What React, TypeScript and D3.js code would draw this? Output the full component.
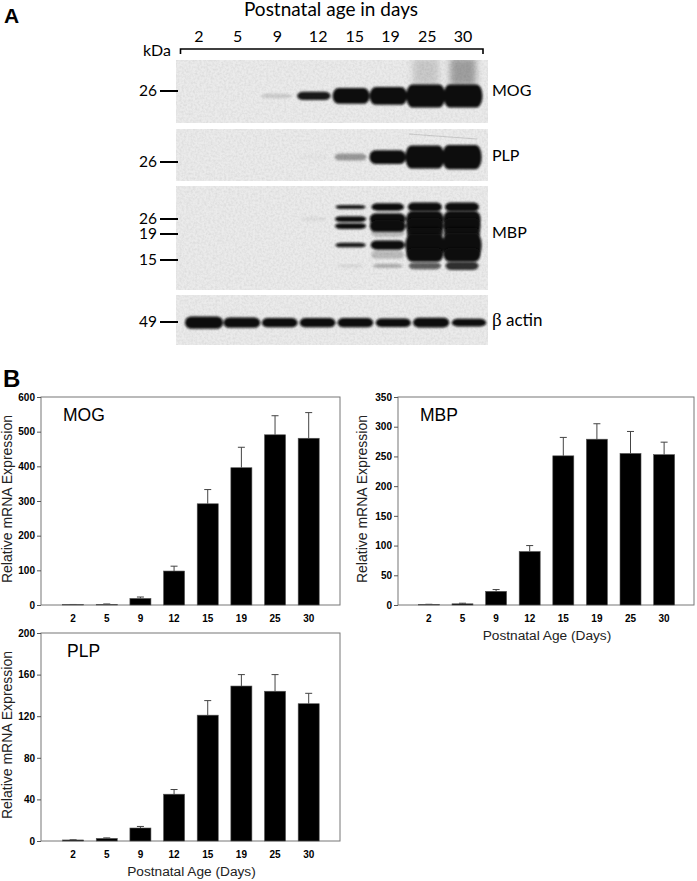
import * as d3 from 'd3';
import { useEffect, useRef } from 'react';

// Panel A: lanes and blot readings (spread = band thickness 0-1, dark = ink 0-1)
const ages = ['2', '5', '9', '12', '15', '19', '25', '30'];

const mogSpread = [0, 0, 0.2, 0.36, 0.68, 0.77, 1, 1];
const mogDark = [0, 0, 0.13, 0.95, 1, 1, 1, 1];
const mogHaze = [0, 0, 0, 0, 0, 0, 0.14, 0.32];

const plpSpread = [0, 0, 0, 0.2, 0.3, 0.6, 1, 1.05];
const plpDark = [0, 0, 0, 0.02, 0.35, 1, 1, 1];

const mbpKda = [31.6, 26, 22.7, 19.5, 17.3, 15.8, 14.1];
const mbpSpread = [
  [0, 0, 0, 0, 0.18, 0.32, 0.4, 0.4],
  [0, 0, 0, 0.15, 0.25, 0.5, 0.7, 0.7],
  [0, 0, 0, 0, 0.25, 0.5, 0.7, 0.7],
  [0, 0, 0, 0, 0, 0.35, 0.5, 0.5],
  [0, 0, 0, 0, 0.2, 0.4, 1, 1.05],
  [0, 0, 0, 0, 0, 0.35, 0.6, 0.6],
  [0, 0, 0, 0, 0.15, 0.18, 0.3, 0.35],
];
const mbpDark = [
  [0, 0, 0, 0, 0.95, 1, 1, 1],
  [0, 0, 0, 0.06, 1, 1, 1, 1],
  [0, 0, 0, 0, 1, 1, 1, 1],
  [0, 0, 0, 0, 0, 0.2, 0.9, 0.9],
  [0, 0, 0, 0, 0.95, 1, 1, 1],
  [0, 0, 0, 0, 0, 0.2, 1, 1],
  [0, 0, 0, 0, 0.08, 0.25, 0.65, 0.85],
];

const actinSpread = [0.54, 0.45, 0.4, 0.4, 0.4, 0.37, 0.42, 0.33];
const actinDark = [1, 1, 1, 1, 1, 1, 1, 1];

// Panel B: relative mRNA expression, mean and top of error bar
const mogMean = [1, 2, 19, 98, 292, 396, 491, 481];
const mogTop = [1.5, 3, 23, 112, 333, 455, 546, 555];
const mogTicks = [0, 100, 200, 300, 400, 500, 600];

const mbpMean = [1, 2, 23, 90, 251, 279, 255, 253];
const mbpTop = [1.2, 3, 26, 100, 282, 305, 292, 274];
const mbpTicks = [0, 50, 100, 150, 200, 250, 300, 350];

const plpMean = [1, 2.5, 12.5, 45, 121, 149, 144, 132];
const plpTop = [1.2, 3, 14, 49.5, 135, 160, 160, 142];
const plpTicks = [0, 40, 80, 120, 160, 200];

const SANS = '"Liberation Sans", Arial, sans-serif';
const LABEL = 'Lato, "Open Sans", sans-serif';

type Sel = d3.Selection<SVGSVGElement, unknown, null, undefined>;

function drawBars(
  svg: Sel,
  o: {
    name: string;
    mean: number[];
    top: number[];
    ticks: number[];
    box: { x0: number; x1: number; y0: number; y1: number };
    bandRange: [number, number];
    nameX: number;
    ylabelX: number;
    xlabel: boolean;
  }
) {
  const { box } = o;
  const x = d3.scaleBand<string>().domain(ages).range(o.bandRange).paddingInner(0.375).paddingOuter(0.19);
  const y = d3.scaleLinear().domain([0, o.ticks[o.ticks.length - 1]]).range([box.y1, box.y0]);
  const g = svg.append('g');

  g.append('rect')
    .attr('x', box.x0)
    .attr('y', box.y0)
    .attr('width', box.x1 - box.x0)
    .attr('height', box.y1 - box.y0)
    .attr('fill', 'none')
    .attr('stroke', '#777')
    .attr('stroke-width', 1);

  // Error bars first, the bar sits on top
  const errs = g.append('g').selectAll('g').data(ages).enter().append('g');
  errs
    .append('line')
    .attr('x1', (d) => x(d)! + x.bandwidth() / 2)
    .attr('x2', (d) => x(d)! + x.bandwidth() / 2)
    .attr('y1', (_, i) => y(o.mean[i]))
    .attr('y2', (_, i) => y(o.top[i]))
    .attr('stroke', '#444');
  errs
    .append('line')
    .attr('x1', (d) => x(d)! + x.bandwidth() / 2 - 3.5)
    .attr('x2', (d) => x(d)! + x.bandwidth() / 2 + 3.5)
    .attr('y1', (_, i) => y(o.top[i]))
    .attr('y2', (_, i) => y(o.top[i]))
    .attr('stroke', '#444');

  g.append('g')
    .selectAll('rect')
    .data(ages)
    .enter()
    .append('rect')
    .attr('x', (d) => x(d)!)
    .attr('y', (_, i) => y(o.mean[i]))
    .attr('width', x.bandwidth())
    .attr('height', (_, i) => box.y1 - y(o.mean[i]))
    .attr('fill', '#000')
    .attr('stroke', '#555')
    .attr('stroke-width', 0.6);

  const yAxis = g
    .append('g')
    .attr('transform', `translate(${box.x0},0)`)
    .call(d3.axisLeft(y).tickValues(o.ticks).tickSize(4).tickPadding(2));
  yAxis.select('.domain').remove();
  yAxis.selectAll('line').attr('stroke', '#555');
  yAxis
    .selectAll('text')
    .attr('fill', '#000')
    .style('font-family', SANS)
    .style('font-weight', 'bold')
    .style('font-size', '10px');

  const xAxis = g
    .append('g')
    .attr('transform', `translate(0,${box.y1})`)
    .call(d3.axisBottom(x).tickSize(0).tickPadding(10));
  xAxis.select('.domain').remove();
  xAxis
    .selectAll('text')
    .attr('fill', '#000')
    .style('font-family', SANS)
    .style('font-weight', 'bold')
    .style('font-size', '10px');

  g.append('text')
    .attr('x', o.nameX)
    .attr('y', box.y0 + 24)
    .attr('font-family', SANS)
    .attr('font-size', 17.5)
    .text(o.name);

  g.append('text')
    .attr('transform', `translate(${o.ylabelX},${(box.y0 + box.y1) / 2 - 2}) rotate(-90)`)
    .attr('text-anchor', 'middle')
    .attr('font-family', SANS)
    .attr('font-size', 14)
    .attr('fill', '#222')
    .text('Relative mRNA Expression');

  if (o.xlabel) {
    g.append('text')
      .attr('x', (box.x0 + box.x1) / 2 + 1)
      .attr('y', box.y1 + 35)
      .attr('text-anchor', 'middle')
      .attr('font-family', SANS)
      .attr('font-size', 13.7)
      .attr('fill', '#222')
      .text('Postnatal Age (Days)');
  }
}

function drawBlot(
  svg: Sel,
  o: {
    panel: { y0: number; y1: number };
    laneRange: [number, number];
    markers: { kda: number; y: number }[];
    rows: { kda: number; spread: number[]; dark: number[] }[];
    name: string;
    nameY: number;
    wide?: number;
  }
) {
  const lane = d3.scalePoint<string>().domain(ages).range(o.laneRange);
  // gel ladder, taken from the MBP panel spacing and shifted to this panel's marker
  const ladder = d3.scaleLinear().domain([26, 19, 15]).range([0, 15, 41]);
  const ref = o.markers[0];
  const migrate = (kda: number) => ladder(kda) - ladder(ref.kda) + ref.y;
  const thick = d3.scaleLinear().domain([0, 1]).range([0, 23]);
  const breadth = d3.scaleLinear().domain([0, 0.18, 0.5, 1]).range([0, 30, 36, 39]);
  const wide = o.wide ?? 1;

  const g = svg.append('g');
  g.append('rect')
    .attr('x', 176)
    .attr('y', o.panel.y0)
    .attr('width', 312)
    .attr('height', o.panel.y1 - o.panel.y0)
    .attr('fill', '#ebebeb');
  g.append('rect')
    .attr('x', 176)
    .attr('y', o.panel.y0)
    .attr('width', 312)
    .attr('height', o.panel.y1 - o.panel.y0)
    .attr('filter', 'url(#grain)');

  o.rows.forEach((row) => {
    g.append('g')
      .attr('filter', 'url(#soft)')
      .selectAll('rect')
      .data(ages.filter((_, i) => row.dark[i] > 0))
      .enter()
      .append('rect')
      .each(function (d) {
        const i = ages.indexOf(d);
        const h = thick(row.spread[i]);
        const w = breadth(row.spread[i]) * wide;
        d3.select(this)
          .attr('x', lane(d)! - w / 2)
          .attr('y', migrate(row.kda) - h / 2)
          .attr('width', w)
          .attr('height', h)
          .attr('rx', Math.min(w / 4, 6))
          .attr('ry', h / 2)
          .attr('fill', '#0a0a0a')
          .attr('opacity', row.dark[i]);
      });
  });

  o.markers.forEach((m) => {
    g.append('line')
      .attr('x1', 160)
      .attr('x2', 178)
      .attr('y1', m.y)
      .attr('y2', m.y)
      .attr('stroke', '#000')
      .attr('stroke-width', 2);
    g.append('text')
      .attr('x', 157)
      .attr('y', m.y)
      .attr('dy', '0.34em')
      .attr('text-anchor', 'end')
      .attr('font-family', LABEL)
      .attr('font-size', 15.5)
      .text(m.kda);
  });

  const label = g
    .append('text')
    .attr('x', 492)
    .attr('y', o.nameY)
    .attr('dy', '0.34em')
    .attr('font-family', LABEL)
    .attr('font-size', 16);
  if (o.name.startsWith('β')) {
    label.append('tspan').attr('font-family', '"Liberation Serif", serif').attr('font-size', 19).text('β');
    label.append('tspan').attr('font-size', 17).text(o.name.slice(1));
  } else {
    label.text(o.name);
  }
  return { lane, migrate };
}

export default function App() {
  const ref = useRef<SVGSVGElement | null>(null);

  useEffect(() => {
    if (!ref.current) return;
    const svg = d3.select(ref.current) as unknown as Sel;
    svg.selectAll('*').remove();

    const defs = svg.append('defs');
    defs
      .append('filter')
      .attr('id', 'soft')
      .attr('x', '-20%')
      .attr('y', '-60%')
      .attr('width', '140%')
      .attr('height', '220%')
      .append('feGaussianBlur')
      .attr('stdDeviation', 1.1);
    const haze = defs.append('filter').attr('id', 'haze').attr('x', '-50%').attr('y', '-50%').attr('width', '200%').attr('height', '200%');
    haze.append('feGaussianBlur').attr('stdDeviation', 3);
    const grain = defs.append('filter').attr('id', 'grain').attr('x', 0).attr('y', 0).attr('width', '100%').attr('height', '100%');
    grain.append('feTurbulence').attr('type', 'fractalNoise').attr('baseFrequency', 0.45).attr('numOctaves', 2).attr('seed', 3);
    grain.append('feColorMatrix').attr('values', '0 0 0 0 0  0 0 0 0 0  0 0 0 0 0  0.12 0 0 0 -0.04');
    defs.append('clipPath').attr('id', 'mog-panel').append('rect').attr('x', 176).attr('y', 60).attr('width', 312).attr('height', 63);

    // Panel A
    svg.append('text').attr('x', 4).attr('y', 23).attr('font-family', SANS).attr('font-weight', 'bold').attr('font-size', 21).text('A');
    svg.append('text').attr('x', 331).attr('y', 16).attr('text-anchor', 'middle').attr('font-family', LABEL).attr('font-size', 19).text('Postnatal age in days');
    svg.append('text').attr('x', 171).attr('y', 56).attr('text-anchor', 'end').attr('font-family', LABEL).attr('font-size', 16).text('kDa');

    const heads = d3.scalePoint<string>().domain(ages).range([199, 463]);
    svg
      .append('g')
      .selectAll('text')
      .data(ages)
      .enter()
      .append('text')
      .attr('x', (d, i) => heads(d)! + [0, 1, 3, 6, 5, 3, 2, 0][i])
      .attr('y', 42)
      .attr('text-anchor', 'middle')
      .attr('font-family', LABEL)
      .attr('font-size', 16)
      .text((d) => d);
    svg
      .append('path')
      .attr('d', 'M180.5,54V49H483V54')
      .attr('fill', 'none')
      .attr('stroke', '#000')
      .attr('stroke-width', 1.6);

    const mog = drawBlot(svg, {
      panel: { y0: 60, y1: 123 },
      laneRange: [202, 463],
      markers: [{ kda: 26, y: 91 }],
      rows: [{ kda: 23.7, spread: mogSpread, dark: mogDark }],
      name: 'MOG',
      nameY: 91,
    });
    // haze above the heavy MOG bands
    svg
      .append('g')
      .attr('clip-path', 'url(#mog-panel)')
      .append('g')
      .attr('filter', 'url(#haze)')
      .selectAll('rect')
      .data(ages.filter((_, i) => mogHaze[i] > 0))
      .enter()
      .append('rect')
      .attr('x', (d) => mog.lane(d)! - 13)
      .attr('y', 58)
      .attr('width', 26)
      .attr('height', 28)
      .attr('fill', '#000')
      .attr('opacity', (d) => mogHaze[ages.indexOf(d)]);

    const plp = drawBlot(svg, {
      panel: { y0: 129, y1: 181 },
      laneRange: [202, 462],
      markers: [{ kda: 26, y: 162 }],
      rows: [{ kda: 28.3, spread: plpSpread, dark: plpDark }],
      name: 'PLP',
      nameY: 156,
    });
    // faint scratch over the last PLP lanes
    const scratch = d3
      .line<number>()
      .x((d) => plp.lane(ages[6])! - 16 + d * 68)
      .y((d) => 134 + d * 5)
      .curve(d3.curveBasis);
    svg
      .append('path')
      .attr('d', scratch([0, 0.4, 1]))
      .attr('fill', 'none')
      .attr('stroke', '#bdbdbd')
      .attr('stroke-width', 0.8);

    drawBlot(svg, {
      panel: { y0: 186, y1: 290 },
      laneRange: [202, 462],
      markers: [
        { kda: 26, y: 219 },
        { kda: 19, y: 234 },
        { kda: 15, y: 260 },
      ],
      rows: mbpKda.map((kda, i) => ({ kda, spread: mbpSpread[i], dark: mbpDark[i] })),
      name: 'MBP',
      nameY: 233,
    });

    drawBlot(svg, {
      panel: { y0: 295, y1: 345 },
      laneRange: [204, 469],
      markers: [{ kda: 49, y: 322 }],
      rows: [{ kda: 48.7, spread: actinSpread, dark: actinDark }],
      name: 'β actin',
      nameY: 321,
      wide: 1.05,
    });

    // Panel B
    svg.append('text').attr('x', 3).attr('y', 387).attr('font-family', SANS).attr('font-weight', 'bold').attr('font-size', 24).text('B');

    drawBars(svg, {
      name: 'MOG',
      mean: mogMean,
      top: mogTop,
      ticks: mogTicks,
      box: { x0: 41, x1: 340, y0: 397, y1: 605 },
      bandRange: [56.2, 325.6],
      nameX: 63,
      ylabelX: 12,
      xlabel: false,
    });
    drawBars(svg, {
      name: 'MBP',
      mean: mbpMean,
      top: mbpTop,
      ticks: mbpTicks,
      box: { x0: 398, x1: 694, y0: 397, y1: 605 },
      bandRange: [412, 681],
      nameX: 420,
      ylabelX: 367,
      xlabel: true,
    });
    drawBars(svg, {
      name: 'PLP',
      mean: plpMean,
      top: plpTop,
      ticks: plpTicks,
      box: { x0: 41, x1: 340, y0: 633, y1: 841 },
      bandRange: [56.2, 325.6],
      nameX: 67,
      ylabelX: 12,
      xlabel: true,
    });
  }, []);

  return (
    <svg
      ref={ref}
      width={697}
      height={881}
      viewBox="0 0 697 881"
      style={{ position: 'absolute', left: 0, top: 0, background: '#fff' }}
      role="img"
      aria-label="Myelin protein blots and mRNA expression by postnatal age"
    />
  );
}
